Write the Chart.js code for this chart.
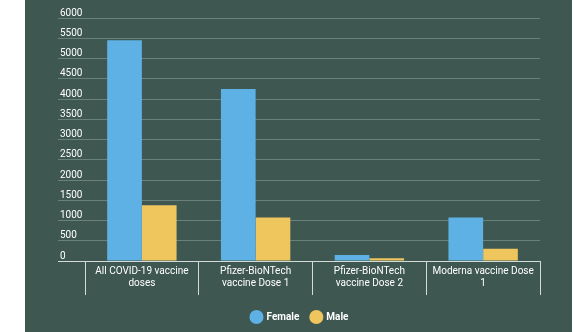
<!DOCTYPE html>
<html>
<head>
<meta charset="utf-8">
<script src="https://cdn.jsdelivr.net/npm/chart.js@4"></script>
<style>
    html, body { margin: 0; padding: 0; background: #ffffff; }
    #panel {
        position: absolute;
        left: 25px; top: 0;
        width: 547px; height: 332px;
        background: #3e5750;
    }
</style>
</head>
<body>
<div id="panel"><canvas id="chart" width="547" height="332"></canvas></div>
<script>
// Datos del gráfico
var categories = [
    ['All COVID-19 vaccine', 'doses'],
    ['Pfizer-BioNTech', 'vaccine Dose 1'],
    ['Pfizer-BioNTech', 'vaccine Dose 2'],
    ['Moderna vaccine Dose', '1']
];
var femaleValues = [5450, 4250, 150, 1075];
var maleValues = [1375, 1075, 70, 300];
var yMax = 6000;
var yStep = 500;

var gridColor = 'rgba(190, 210, 202, 0.35)';
var axisColor = '#d3dbd8';

new Chart(document.getElementById('chart').getContext('2d'), {
    type: 'bar',
    data: {
        labels: categories,
        datasets: [{
            label: 'Female',
            data: femaleValues,
            backgroundColor: '#5eb1e4',
            borderWidth: 0
        }, {
            label: 'Male',
            data: maleValues,
            backgroundColor: '#efc65e',
            borderWidth: 0
        }]
    },
    options: {
        responsive: false,
        animation: false,
        layout: {
            padding: { left: 35, right: 32, top: 18, bottom: 0 }
        },
        categoryPercentage: 0.61,
        barPercentage: 1.0,
        plugins: {
            legend: {
                position: 'bottom',
                labels: {
                    usePointStyle: true,
                    pointStyle: 'circle',
                    boxWidth: 10,
                    boxHeight: 10,
                    color: '#ffffff',
                    font: { family: 'Roboto', size: 10, weight: 'bold' },
                    padding: 12
                }
            },
            tooltip: { enabled: false }
        },
        scales: {
            x: {
                grid: {
                    offset: true,
                    drawOnChartArea: false,
                    tickLength: 34,
                    color: axisColor
                },
                border: { color: axisColor, width: 1 },
                ticks: {
                    color: '#ffffff',
                    padding: -30,
                    maxRotation: 0,
                    font: { family: 'Roboto', size: 10 }
                },
                afterFit: function(scale) {
                    scale.height = 39;
                }
            },
            y: {
                min: 0,
                max: yMax,
                grid: {
                    tickLength: 27,
                    color: function(ctx) {
                        return ctx.tick && ctx.tick.value === 0 ? axisColor : gridColor;
                    }
                },
                border: { display: false },
                ticks: {
                    stepSize: yStep,
                    crossAlign: 'far',
                    labelOffset: -5,
                    color: '#ffffff',
                    font: { family: 'Roboto', size: 10 },
                    callback: function(value) {
                        return String(value);
                    }
                },
                afterFit: function(scale) {
                    scale.width = 25;
                }
            }
        }
    }
});
</script>
</body>
</html>
